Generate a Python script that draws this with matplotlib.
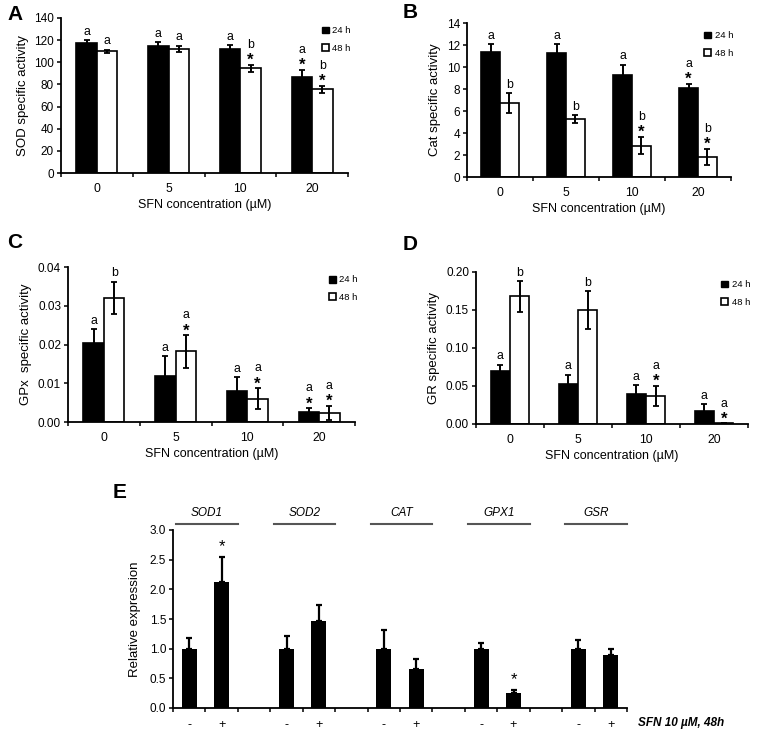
import matplotlib
matplotlib.use('Agg')
import matplotlib.pyplot as plt
from matplotlib.patches import Patch
import matplotlib.transforms as mtransforms

plt.rcParams['font.family'] = ['Liberation Sans', 'DejaVu Sans']

W, H = 763, 734

conc_labels = ['0', '5', '10', '20']

# Panel A - SOD
sod_24 = [117, 115, 112, 87]
sod_24_err = [3, 3, 3.5, 6]
sod_48 = [110, 112, 94.5, 75.5]
sod_48_err = [1.5, 3, 3, 3.5]
sod_24_let = ['a', 'a', 'a', 'a']
sod_48_let = ['a', 'a', 'b', 'b']
sod_24_star = [False, False, False, True]
sod_48_star = [False, False, True, True]

# Panel B - Cat
cat_24 = [11.4, 11.3, 9.3, 8.1]
cat_24_err = [0.7, 0.8, 0.9, 0.4]
cat_48 = [6.7, 5.3, 2.85, 1.8]
cat_48_err = [0.9, 0.35, 0.8, 0.75]
cat_24_let = ['a', 'a', 'a', 'a']
cat_48_let = ['b', 'b', 'b', 'b']
cat_24_star = [False, False, False, True]
cat_48_star = [False, False, True, True]

# Panel C - GPx
gpx_24 = [0.0205, 0.012, 0.008, 0.0027]
gpx_24_err = [0.0035, 0.005, 0.0035, 0.0008]
gpx_48 = [0.032, 0.0182, 0.006, 0.0024]
gpx_48_err = [0.0042, 0.0042, 0.0027, 0.0018]
gpx_24_let = ['a', 'a', 'a', 'a']
gpx_48_let = ['b', 'a', 'a', 'a']
gpx_24_star = [False, False, False, True]
gpx_48_star = [False, True, True, True]

# Panel D - GR
gr_24 = [0.070, 0.052, 0.039, 0.017]
gr_24_err = [0.008, 0.013, 0.012, 0.009]
gr_48 = [0.168, 0.150, 0.037, 0.001]
gr_48_err = [0.020, 0.025, 0.013, 0.0]
gr_24_let = ['a', 'a', 'a', 'a']
gr_48_let = ['b', 'b', 'a', 'a']
gr_24_star = [False, False, False, False]
gr_48_star = [False, False, True, True]

# Panel E - relative expression
genes = ['SOD1', 'SOD2', 'CAT', 'GPX1', 'GSR']
ctrl_expr = [1.0, 1.0, 1.0, 1.0, 1.0]
ctrl_err = [0.18, 0.22, 0.32, 0.1, 0.15]
sfn_expr = [2.12, 1.46, 0.65, 0.25, 0.9]
sfn_err = [0.42, 0.28, 0.18, 0.05, 0.1]
sfn_star = [True, False, False, True, False]


def px_rect(x0, y0, x1, y1):
    return [x0 / W, 1 - y1 / H, (x1 - x0) / W, (y1 - y0) / H]


def style_axes(ax):
    ax.spines['top'].set_visible(False)
    ax.spines['right'].set_visible(False)
    for s in ['left', 'bottom']:
        ax.spines[s].set_linewidth(1.3)
    ax.tick_params(direction='out', length=3, width=1.1, labelsize=8.5, pad=2)


def enzyme_panel(rect, letter, v24, e24, v48, e48, l24, l48, s24, s48,
                 ylim, yticks, yfmt, ylabel, letter_pos):
    ax = fig.add_axes(px_rect(*rect))
    style_axes(ax)
    n = len(v24)
    w = 0.285
    c = [i + 0.5 for i in range(n)]
    x24 = [x - w / 2 for x in c]
    x48 = [x + w / 2 for x in c]
    ax.bar(x24, v24, w, color='black', edgecolor='black', linewidth=1.2)
    ax.bar(x48, v48, w, color='white', edgecolor='black', linewidth=1.2)
    ax.errorbar(x24, v24, yerr=e24, fmt='none', ecolor='black',
                elinewidth=1.4, capsize=2.2, capthick=1.3)
    ax.errorbar(x48, v48, yerr=e48, fmt='none', ecolor='black',
                elinewidth=1.4, capsize=2.2, capthick=1.3)
    span = ylim[1] - ylim[0]
    for xs, vs, es, ls, ss in [(x24, v24, e24, l24, s24),
                               (x48, v48, e48, l48, s48)]:
        for x, v, e, l, s in zip(xs, vs, es, ls, ss):
            y = v + e + 0.015 * span
            if s:
                ax.text(x, y - 0.035 * span, '*', ha='center', va='bottom',
                        fontsize=12, fontweight='bold')
                y += 0.075 * span
            ax.text(x, y, l, ha='center', va='bottom', fontsize=8.8)
    ax.set_xlim(0, n)
    ax.set_ylim(*ylim)
    ax.set_xticks(range(n + 1))
    ax.set_xticklabels([])
    ax.set_xticks(c, minor=True)
    ax.set_xticklabels(conc_labels, minor=True, fontsize=8.8)
    ax.tick_params(axis='x', which='minor', length=0, pad=7)
    ax.set_yticks(yticks)
    ax.set_yticklabels([yfmt.format(t) for t in yticks])
    ax.set_ylabel(ylabel, fontsize=9.5, labelpad=4)
    ax.set_xlabel('SFN concentration (\u00b5M)', fontsize=9, labelpad=3)
    ax.legend(handles=[Patch(facecolor='black', edgecolor='black'),
                       Patch(facecolor='white', edgecolor='black', linewidth=1.2)],
              labels=['24 h', '48 h'], loc='upper right',
              bbox_to_anchor=(1.04, 1.0), frameon=False, fontsize=6.8,
              handlelength=0.7, handleheight=0.7, handletextpad=0.4,
              labelspacing=0.9)
    fig.text(letter_pos[0] / W, 1 - letter_pos[1] / H, letter, fontsize=15,
             fontweight='bold', ha='left', va='center')
    return ax


fig = plt.figure(figsize=(W / 100, H / 100), dpi=100)

enzyme_panel((61, 18, 348, 173), 'A', sod_24, sod_24_err, sod_48, sod_48_err,
             sod_24_let, sod_48_let, sod_24_star, sod_48_star,
             (0, 140), list(range(0, 141, 20)), '{:d}', 'SOD specific activity',
             (7, 14))
enzyme_panel((467, 23, 731, 177), 'B', cat_24, cat_24_err, cat_48, cat_48_err,
             cat_24_let, cat_48_let, cat_24_star, cat_48_star,
             (0, 14), list(range(0, 15, 2)), '{:d}', 'Cat specific activity',
             (403, 13))
enzyme_panel((68, 267, 355, 422), 'C', gpx_24, gpx_24_err, gpx_48, gpx_48_err,
             gpx_24_let, gpx_48_let, gpx_24_star, gpx_48_star,
             (0, 0.04), [0, 0.01, 0.02, 0.03, 0.04], '{:.2f}', 'GPx  specific activity',
             (7, 242))
enzyme_panel((476, 272, 748, 424), 'D', gr_24, gr_24_err, gr_48, gr_48_err,
             gr_24_let, gr_48_let, gr_24_star, gr_48_star,
             (0, 0.20), [0, 0.05, 0.10, 0.15, 0.20], '{:.2f}', 'GR specific activity',
             (403, 245))

# Panel E
ax = fig.add_axes(px_rect(173, 530, 627, 708))
style_axes(ax)
bw = 0.46
xc = [3 * i + 0.5 for i in range(len(genes))]
xs = [3 * i + 1.5 for i in range(len(genes))]
ax.bar(xc, ctrl_expr, bw, color='black')
ax.bar(xs, sfn_expr, bw, color='black')
ax.errorbar(xc, ctrl_expr, yerr=[[0] * len(genes), ctrl_err], fmt='none',
            ecolor='black', elinewidth=1.6, capsize=2.5, capthick=1.6)
ax.errorbar(xs, sfn_expr, yerr=[[0] * len(genes), sfn_err], fmt='none',
            ecolor='black', elinewidth=1.6, capsize=2.5, capthick=1.6)
for x, v, e, s in zip(xs, sfn_expr, sfn_err, sfn_star):
    if s:
        ax.text(x, v + e + 0.06, '*', ha='center', va='bottom', fontsize=12)
ax.set_xlim(0, 14)
ax.set_ylim(0, 3.0)
ax.set_yticks([0, 0.5, 1.0, 1.5, 2.0, 2.5, 3.0])
ax.set_yticklabels(['{:.1f}'.format(t) for t in [0, 0.5, 1.0, 1.5, 2.0, 2.5, 3.0]])
ax.set_xticks(range(15))
ax.set_xticklabels([])
ax.set_xticks(xc + xs, minor=True)
ax.set_xticklabels(['-'] * len(xc) + ['+'] * len(xs), minor=True, fontsize=9)
ax.tick_params(axis='x', which='minor', length=0, pad=8)
ax.set_ylabel('Relative expression', fontsize=9.5, labelpad=6)
trans = mtransforms.blended_transform_factory(ax.transData, ax.transAxes)
for i, g in enumerate(genes):
    ax.plot([3 * i + 0.1, 3 * i + 2.0], [1.035, 1.035], color='#555555',
            lw=1.5, transform=trans, clip_on=False)
    ax.text(3 * i + 1.05, 1.06, g, ha='center', va='bottom', fontsize=8.5,
            fontstyle='italic', transform=trans)
fig.text(638 / W, 1 - 723 / H, 'SFN 10 \u00b5M, 48h', fontsize=8.5,
         fontweight='bold', fontstyle='italic', ha='left', va='center')
fig.text(113 / W, 1 - 493 / H, 'E', fontsize=15, fontweight='bold',
         ha='left', va='center')

fig.savefig('out.png', dpi=100)
